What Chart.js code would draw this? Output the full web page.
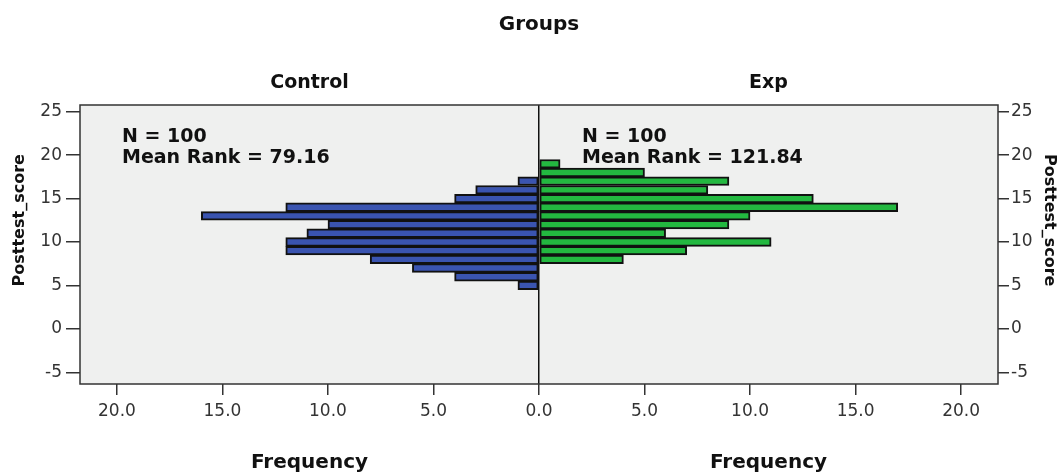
<!DOCTYPE html>
<html>
<head>
<meta charset="utf-8">
<script src="https://cdn.jsdelivr.net/npm/chart.js@4"></script>
<style>
  body { margin:0; background:#fff; }
  #wrap { width:1063px; height:476px; }
</style>
</head>
<body>
<div id="wrap"><canvas id="grafica" width="1063" height="476"></canvas></div>
<script>
// datos
const puntuaciones = [5, 6, 7, 8, 9, 10, 11, 12, 13, 14, 15, 16, 17, 18, 19];
const control      = [1, 4, 6, 8, 12, 12, 11, 10, 16, 12, 4, 3, 1, 0, 0];
const experimental = [0, 0, 0, 4, 7, 11, 6, 9, 10, 17, 13, 8, 9, 5, 1];
const ticksY = [-5, 0, 5, 10, 15, 20, 25];
const ticksX = [-20, -15, -10, -5, 0, 5, 10, 15, 20];
const textos = {
  titulo: 'Groups', izq: 'Control', der: 'Exp',
  ejeX: 'Frequency', ejeY: 'Posttest_score',
  nIzq: 'N = 100', rangoIzq: 'Mean Rank = 79.16',
  nDer: 'N = 100', rangoDer: 'Mean Rank = 121.84'
};

const FUENTE = '"DejaVu Sans", sans-serif';

const datosControl = puntuaciones.map((p, i) => ({ x: -control[i], y: p })).filter(d => d.x !== 0);
const datosExp     = puntuaciones.map((p, i) => ({ x: experimental[i], y: p })).filter(d => d.x !== 0);

// fondo gris, marco y textos tipo SPSS
const marco = {
  id: 'marco',
  beforeDraw(chart) {
    const { ctx, chartArea: a } = chart;
    ctx.save();
    ctx.fillStyle = '#eff0ef';
    ctx.fillRect(a.left, a.top, a.right - a.left, a.bottom - a.top);
    ctx.restore();
  },
  afterDraw(chart) {
    const { ctx, chartArea: a, scales } = chart;
    const cx = scales.x.getPixelForValue(0);
    ctx.save();
    ctx.strokeStyle = '#333';
    ctx.lineWidth = 1.5;
    ctx.strokeRect(a.left, a.top, a.right - a.left, a.bottom - a.top);

    ctx.fillStyle = '#111';
    ctx.textAlign = 'center';
    ctx.textBaseline = 'alphabetic';
    ctx.font = 'bold 20px ' + FUENTE;
    ctx.fillText(textos.titulo, cx, 30);
    ctx.font = 'bold 19px ' + FUENTE;
    ctx.fillText(textos.izq, (a.left + cx) / 2, 88);
    ctx.fillText(textos.der, (a.right + cx) / 2, 88);
    ctx.font = 'bold 20px ' + FUENTE;
    ctx.fillText(textos.ejeX, (a.left + cx) / 2, 468);
    ctx.fillText(textos.ejeX, (a.right + cx) / 2, 468);

    ctx.font = 'bold 16px ' + FUENTE;
    const my = (scales.y.getPixelForValue(10) + scales.y.getPixelForValue(15)) / 2;
    ctx.save();
    ctx.translate(24, my);
    ctx.rotate(-Math.PI / 2);
    ctx.fillText(textos.ejeY, 0, 0);
    ctx.restore();
    ctx.save();
    ctx.translate(1045, my);
    ctx.rotate(Math.PI / 2);
    ctx.fillText(textos.ejeY, 0, 0);
    ctx.restore();

    ctx.textAlign = 'left';
    ctx.font = 'bold 19px ' + FUENTE;
    ctx.fillText(textos.nIzq, 122, 142);
    ctx.fillText(textos.rangoIzq, 122, 163);
    ctx.fillText(textos.nDer, 582, 142);
    ctx.fillText(textos.rangoDer, 582, 163);
    ctx.restore();
  }
};

const ejeY = (posicion, ancho, largo) => ({
  type: 'linear', position: posicion, min: -6.35, max: 25.77, offset: false,
  afterBuildTicks: s => { s.ticks = ticksY.map(v => ({ value: v })); },
  afterFit: s => { s.width = ancho; },
  border: { display: false },
  grid: { offset: false, drawOnChartArea: false, tickLength: largo, tickColor: '#333', lineWidth: 1.5 },
  ticks: { color: '#333', padding: posicion === 'left' ? 4 : 2, font: { family: FUENTE, size: 17 } }
});

new Chart(document.getElementById('grafica').getContext('2d'), {
  type: 'bar',
  data: {
    datasets: [
      { label: 'Control', data: datosControl, backgroundColor: '#3a54b0', borderColor: '#111', borderWidth: 2, borderSkipped: false },
      { label: 'Exp', data: datosExp, backgroundColor: '#23b840', borderColor: '#111', borderWidth: 2, borderSkipped: false }
    ]
  },
  options: {
    responsive: false, animation: false, indexAxis: 'y',
    grouped: false, barPercentage: 1, categoryPercentage: 1,
    layout: { padding: { top: 105, left: 0, right: 0, bottom: 0 } },
    plugins: { legend: { display: false }, tooltip: { enabled: false } },
    scales: {
      x: {
        type: 'linear', min: -21.75, max: 21.75,
        afterBuildTicks: s => { s.ticks = ticksX.map(v => ({ value: v })); },
        afterFit: s => { s.height = 92; },
        border: { display: false },
        grid: {
          color: c => (c.tick && c.tick.value === 0 ? '#111' : 'transparent'),
          tickColor: '#333', tickLength: 11, lineWidth: 1.5
        },
        ticks: { color: '#333', padding: 6, font: { family: FUENTE, size: 17 },
                 callback: v => Math.abs(v).toFixed(1) }
      },
      y: ejeY('left', 80, 14),
      y2: ejeY('right', 65, 11)
    }
  },
  plugins: [marco]
});
</script>
</body>
</html>
